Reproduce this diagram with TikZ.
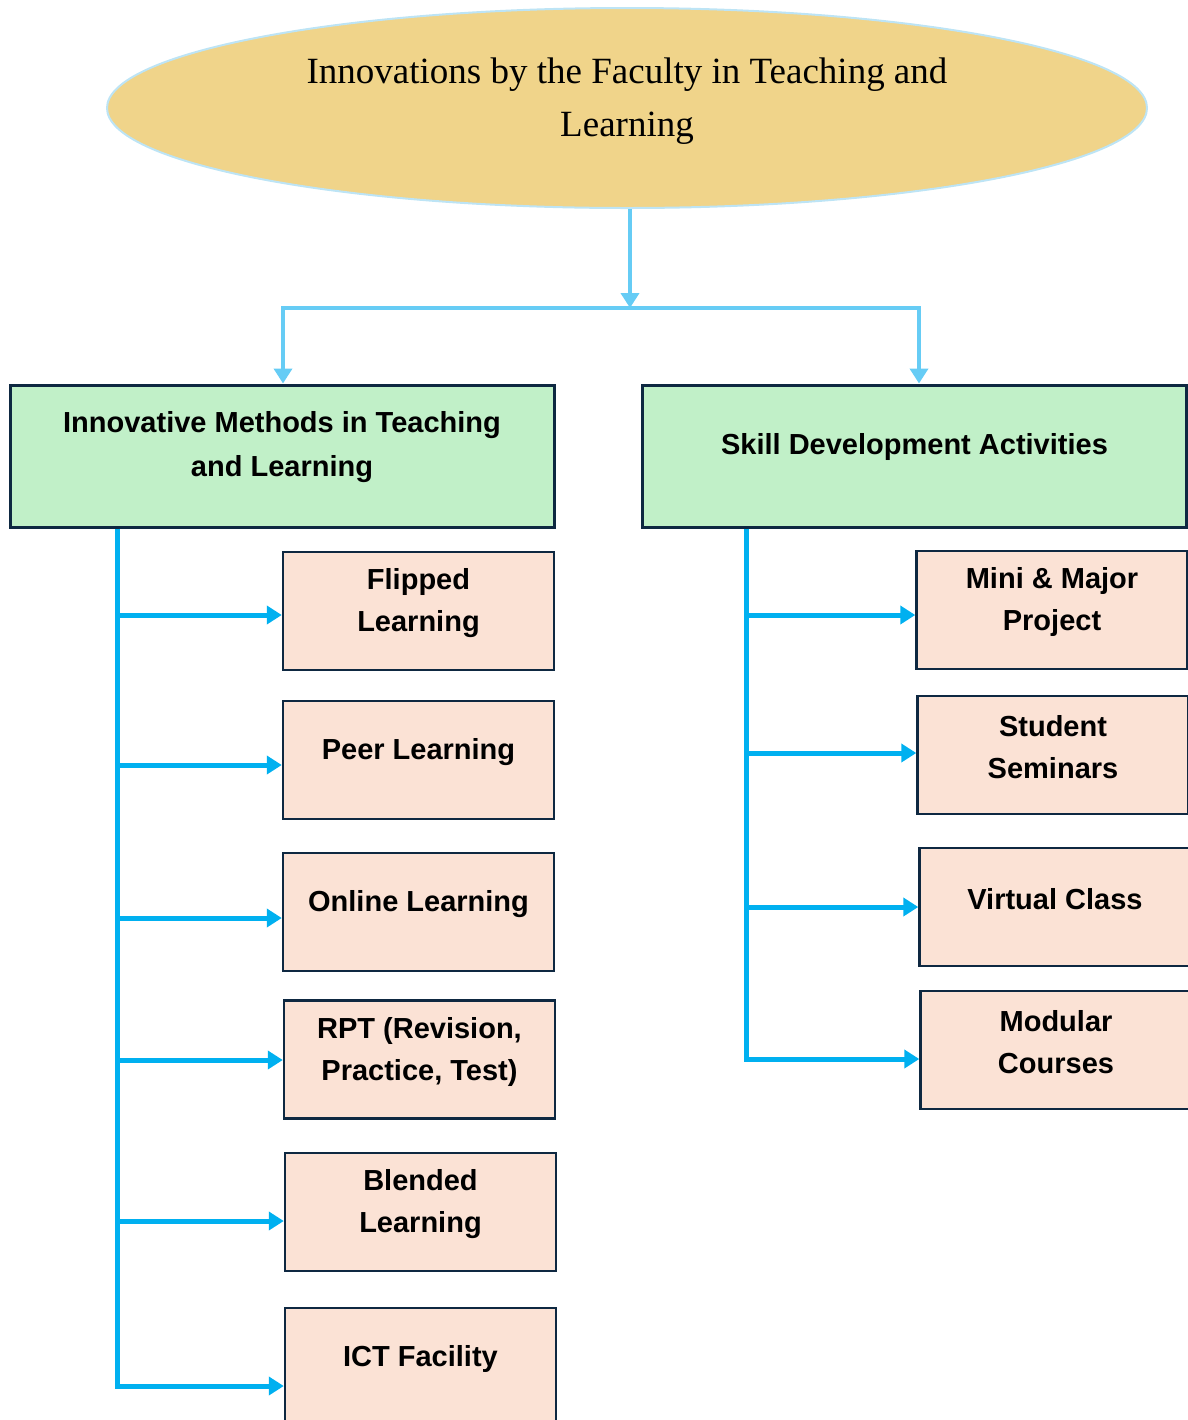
\documentclass[tikz,border=0pt]{standalone}
\usepackage{fontspec}
\setmainfont{Liberation Serif}
\newfontfamily\boxfont{Liberation Sans}
\usetikzlibrary{shapes.geometric}
\usetikzlibrary{arrows.meta}
\definecolor{titlefill}{RGB}{240,212,138}
\definecolor{titleedge}{RGB}{189,228,245}
\definecolor{feedblue}{RGB}{102,204,245}
\definecolor{branchblue}{RGB}{0,176,240}
\definecolor{greenfill}{RGB}{193,240,200}
\definecolor{pinkfill}{RGB}{251,226,213}
\definecolor{boxedge}{RGB}{14,40,65}

\begin{document}
\begin{tikzpicture}[x=0.5pt,y=-0.5pt,
		headbox/.style={draw=boxedge,line width=1.5pt,fill=greenfill,minimum width=272pt,minimum height=71pt},
		itembox/.style={draw=boxedge,line width=1.2pt,fill=pinkfill,minimum width=135.5pt,minimum height=59pt},
		titletext/.style={yshift=3.5pt,align=center,font=\fontsize{18.5}{26.5}\selectfont},
		headtext/.style={yshift=4.5pt,align=center,font=\boxfont\bfseries\fontsize{14.5}{22}\selectfont},
		itemtext/.style={yshift=4pt,align=center,font=\boxfont\bfseries\fontsize{14.5}{21}\selectfont},
		feed/.style={draw=feedblue,line width=2.2pt,-{Triangle[width=9pt,length=7.5pt]}},
		branch/.style={draw=branchblue,line width=2.5pt,-{Triangle[width=9pt,length=7.5pt]}}]
			\useasboundingbox (0,0) rectangle (1188,1420);
			
			\node[ellipse,draw=titleedge,line width=1pt,fill=titlefill,minimum width=520pt,minimum height=100pt,
				label={[titletext]center:{Innovations by the Faculty in Teaching and\\Learning}}] (title) at (627,108) {};
			
			\node[headbox,label={[headtext]center:{Innovative Methods in Teaching\\and Learning}}] (left) at (282,456) {};
			\node[headbox,label={[headtext]center:{Skill Development Activities}}] (right) at (914.5,456) {};
			
			\node[itembox,label={[itemtext]center:{Flipped\\Learning}}] (flip) at (418.5,611) {};
			\node[itembox,label={[itemtext]center:{Peer Learning}}] (peer) at (418.5,760) {};
			\node[itembox,label={[itemtext]center:{Online Learning}}] (online) at (418.5,912) {};
			\node[itembox,label={[itemtext]center:{RPT (Revision,\\Practice, Test)}}] (rpt) at (419.5,1059.5) {};
			\node[itembox,label={[itemtext]center:{Blended\\Learning}}] (blend) at (420.5,1212) {};
			\node[itembox,label={[itemtext]center:{ICT Facility}}] (ict) at (420.5,1367) {};
			
			\node[itembox,label={[itemtext]center:{Mini \& Major\\Project}}] (mini) at (1052,610) {};
			\node[itembox,label={[itemtext]center:{Student\\Seminars}}] (seminar) at (1053,755) {};
			\node[itembox,label={[itemtext]center:{Virtual Class}}] (virtual) at (1055,907) {};
			\node[itembox,label={[itemtext]center:{Modular\\Courses}}] (modular) at (1056,1050) {};
			
			\coordinate (hub) at (630,308);
			\coordinate (lhub) at (283,308);
			\coordinate (rhub) at (919,308);
			\draw[feed] (hub |- title.south) -- (hub);
			\draw[feed] (hub) -- (lhub) -- (lhub |- left.north);
			\draw[feed] (hub) -- (rhub) -- (rhub |- right.north);
			
			\coordinate (l1) at (117,615);
			\coordinate (l2) at (117,765);
			\coordinate (l3) at (117,918);
			\coordinate (l4) at (117,1060);
			\coordinate (l5) at (117,1221);
			\coordinate (l6) at (117,1386);
			\draw[branch] (left.south -| l6) -- (l6) -- (l6 -| ict.west);
			\draw[branch] (l1) -- (l1 -| flip.west);
			\draw[branch] (l2) -- (l2 -| peer.west);
			\draw[branch] (l3) -- (l3 -| online.west);
			\draw[branch] (l4) -- (l4 -| rpt.west);
			\draw[branch] (l5) -- (l5 -| blend.west);
			
			\coordinate (r1) at (746,615);
			\coordinate (r2) at (746,753);
			\coordinate (r3) at (746,907);
			\coordinate (r4) at (746,1059);
			\draw[branch] (right.south -| r4) -- (r4) -- (r4 -| modular.west);
			\draw[branch] (r1) -- (r1 -| mini.west);
			\draw[branch] (r2) -- (r2 -| seminar.west);
			\draw[branch] (r3) -- (r3 -| virtual.west);
			
		\end{tikzpicture}
\end{document}
